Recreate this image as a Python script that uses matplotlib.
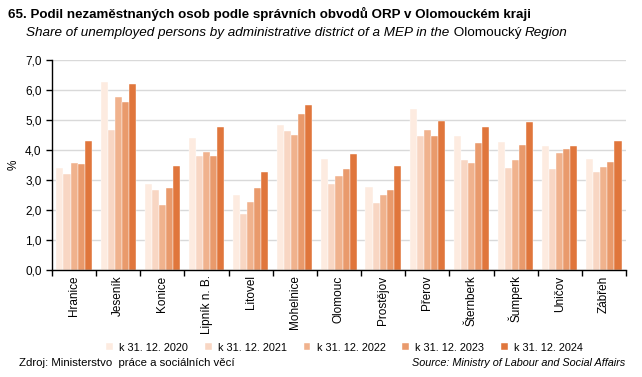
import numpy as np
import matplotlib.pyplot as plt

plt.rcParams['font.family'] = ['Liberation Sans', 'DejaVu Sans']

districts = ["Hranice", "Jeseník", "Konice", "Lipník n. B.", "Litovel", "Mohelnice",
             "Olomouc", "Prostějov", "Přerov", "Šternberk", "Šumperk", "Uničov", "Zábřeh"]
years = ["k 31. 12. 2020", "k 31. 12. 2021", "k 31. 12. 2022", "k 31. 12. 2023", "k 31. 12. 2024"]
v2020 = [3.41, 6.26, 2.88, 4.39, 2.51, 4.83, 3.69, 2.77, 5.38, 4.45, 4.26, 4.12, 3.71]
v2021 = [3.21, 4.65, 2.65, 3.79, 1.88, 4.62, 2.88, 2.24, 4.45, 3.67, 3.41, 3.36, 3.26]
v2022 = [3.55, 5.75, 2.16, 3.94, 2.26, 4.50, 3.13, 2.51, 4.68, 3.58, 3.65, 3.90, 3.43]
v2023 = [3.53, 5.61, 2.74, 3.79, 2.74, 5.19, 3.37, 2.67, 4.45, 4.22, 4.17, 4.02, 3.59]
v2024 = [4.29, 6.21, 3.46, 4.76, 3.27, 5.49, 3.85, 3.48, 4.98, 4.76, 4.94, 4.13, 4.29]
series = [v2020, v2021, v2022, v2023, v2024]
colors = ["#FDEBE0", "#F8D6C3", "#F0B28D", "#E99A6C", "#E0763C"]

fig = plt.figure(figsize=(6.42, 3.77), dpi=100)
ax = fig.add_axes([0.081, 0.284, 0.894, 0.557])

x = np.arange(len(districts))
w = 0.16
for i, (vals, c, lab) in enumerate(zip(series, colors, years)):
    ax.bar(x + (i - 2) * w, vals, w, color=c, label=lab, edgecolor="white", linewidth=0.3)

ax.set_xlim(-0.5, len(districts) - 0.5)
ax.set_ylim(0, 7)
yt = np.arange(0, 7.01, 1)
ax.set_yticks(yt)
ax.set_yticklabels([f"{t:.1f}".replace(".", ",") for t in yt], fontsize=8.5)
ax.yaxis.grid(True, color="#d9d9d9", linewidth=1)
ax.set_axisbelow(True)
ax.set_xticks(x)
ax.set_xticklabels(districts, rotation=90, fontsize=8.5)
ax.tick_params(axis="x", length=0, pad=4)
ax.set_xticks(np.arange(-0.5, len(districts), 1), minor=True)
ax.tick_params(axis="x", which="minor", length=4, direction="out", width=1)
ax.tick_params(axis="y", length=4, width=1, direction="out")
for s in ["top", "right"]:
    ax.spines[s].set_visible(False)
ax.spines["left"].set_linewidth(1)
ax.spines["bottom"].set_linewidth(1)
ax.set_ylabel("%", fontsize=8.5, labelpad=4)

fig.text(0.012, 0.963, "65. Podil nezaměstnaných osob podle správních obvodů ORP v Olomouckém kraji",
         fontsize=9.6, fontweight="bold", va="center")
t1 = fig.text(0.041, 0.912, "Share of unemployed persons by administrative district of a MEP in the",
              fontsize=9.7, style="italic", va="center")
ann = ax.annotate(" Olomoucký ", xy=(1, 0), xycoords=t1, va="bottom", ha="left", fontsize=9.7)
ax.annotate("Region", xy=(1, 0), xycoords=ann, va="bottom", ha="left", fontsize=9.7, style="italic")

fig.legend(loc="center", bbox_to_anchor=(0.537, 0.078), ncol=5, frameon=False, fontsize=7.8,
           handlelength=0.6, handleheight=0.6, columnspacing=1.55, handletextpad=0.6)

fig.text(0.03, 0.037, "Zdroj: Ministerstvo  práce a sociálních věcí", fontsize=8.2, va="center")
fig.text(0.974, 0.037, "Source: Ministry of Labour and Social Affairs", fontsize=7.8,
         style="italic", va="center", ha="right")

fig.savefig("out.png", dpi=100)
